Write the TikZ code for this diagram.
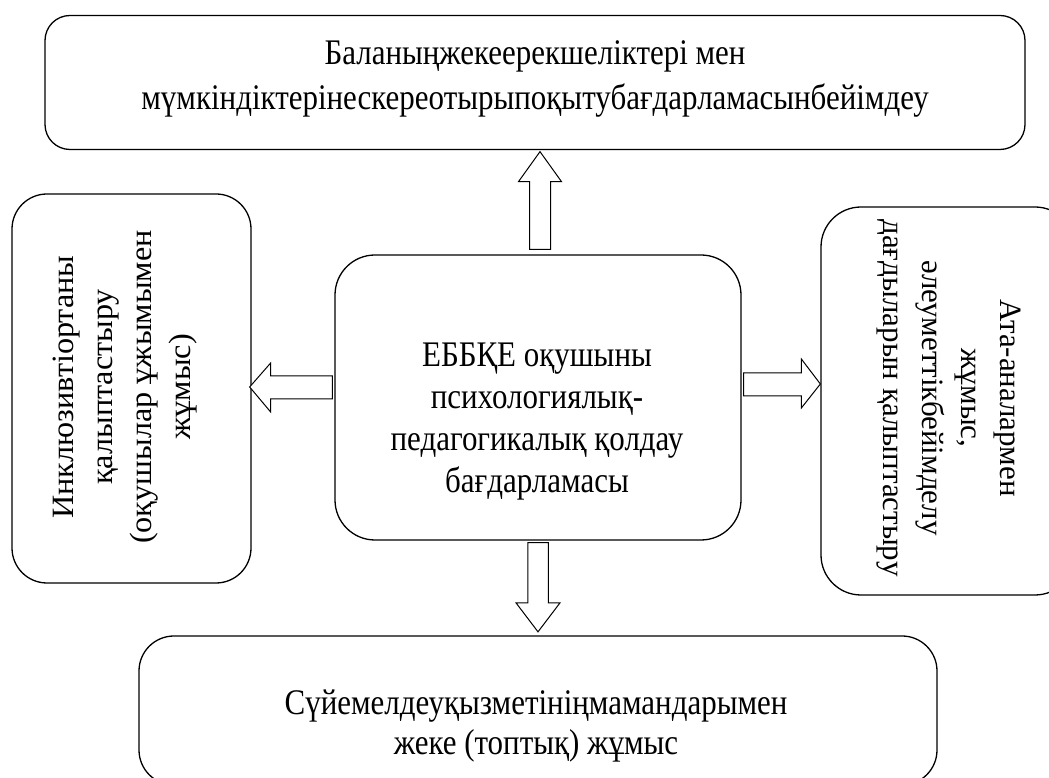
\documentclass[tikz,border=0pt]{standalone}
\usepackage{fontspec}
\setmainfont{Liberation Serif}
\newfontfamily\hfont[FakeStretch=0.86]{Liberation Serif}
\newfontfamily\vfont[FakeStretch=1.04]{Liberation Serif}
\usetikzlibrary{calc}
\begin{document}
\begin{tikzpicture}[x=1pt,y=1pt,
  box/.style={draw, line width=1.3pt},
  lbl/.style={align=center, inner sep=0pt},
  barrow/.style={draw, line width=1pt, fill=white, line join=miter}]
\clip (0,0) rectangle (1049,778);
\fill[white] (0,0) rectangle (1049,778);
% boxes
\node[box, minimum width=980pt, minimum height=134pt, rounded corners=25pt] (t) at (535,695.5) {};
\node[box, minimum width=406pt, minimum height=285pt, rounded corners=40pt] (c) at (538,380.5) {};
\node[box, rotate=90, minimum width=389pt, minimum height=239pt, rounded corners=35pt] (l) at (131.5,389.5) {};
\node[box, rotate=-90, minimum width=388pt, minimum height=254pt, rounded corners=40pt] (r) at (948,377) {};
\node[box, minimum width=798pt, minimum height=149pt, rounded corners=35pt] (b) at (538,67.5) {};
% texts
\node[lbl, font=\hfont\fontsize{36}{45}\selectfont] (tt) at (535,699)
  {Баланыңжекеерекшеліктері мен\\мүмкіндіктерінескереотырыпоқытубағдарламасынбейімдеу};
\node[lbl, font=\hfont\fontsize{36}{42}\selectfont] (ct) at (537,356.5)
  {ЕББҚЕ оқушыны\\психологиялық-\\педагогикалық қолдау\\бағдарламасы};
\node[lbl, font=\hfont\fontsize{36}{40}\selectfont] (bt) at (536,52)
  {Сүйемелдеуқызметініңмамандарымен\\жеке (топтық) жұмыс};
\node[lbl, rotate=90, font=\vfont\fontsize{31}{39}\selectfont] (lt) at (125,391)
  {Инклюзивтіортаны\\қалыптастыру\\(оқушылар ұжымымен\\жұмыс)};
\node[lbl, rotate=-90, font=\fontsize{31}{39}\selectfont] (rt) at (949,380)
  {Ата-аналармен\\жұмыс,\\әлеуметтікбейімделу\\дағдыларын қалыптастыру};
% block arrows
\draw[barrow] let \p1=(c.north), \p2=(t.south) in
  (\x1+2pt-10.5pt,\y1+5pt) -- (\x1+2pt-10.5pt,\y2-31.5pt) -- (\x1+2pt-21.5pt,\y2-31.5pt)
  -- (\x1+2pt,\y2-1.5pt) -- (\x1+2pt+21.5pt,\y2-31.5pt) -- (\x1+2pt+10.5pt,\y2-31.5pt)
  -- (\x1+2pt+10.5pt,\y1+5pt) -- cycle;
\draw[barrow] let \p1=(c.south), \p2=(b.north) in
  (\x1-10.25pt,\y1-2pt) -- (\x1-10.25pt,\y2+32.5pt) -- (\x1-22pt,\y2+32.5pt)
  -- (\x1,\y2+3.5pt) -- (\x1+22pt,\y2+32.5pt) -- (\x1+10.25pt,\y2+32.5pt)
  -- (\x1+10.25pt,\y1-2pt) -- cycle;
\draw[barrow] let \p1=(c.west), \p2=(l.south) in
  (\x1-2pt,\y2-10.5pt) -- (\x2+19pt,\y2-10.5pt) -- (\x2+19pt,\y2-23.5pt)
  -- (\x2-2pt,\y2+1.5pt) -- (\x2+19pt,\y2+25.5pt) -- (\x2+19pt,\y2+12.5pt)
  -- (\x1-2pt,\y2+12.5pt) -- cycle;
\draw[barrow] let \p1=(c.east), \p2=(r.south) in
  (\x1+2pt,\y2+5pt) -- (\x2-19pt,\y2+5pt) -- (\x2-19pt,\y2-7pt)
  -- (\x2,\y2+17pt) -- (\x2-19pt,\y2+42pt) -- (\x2-19pt,\y2+28pt)
  -- (\x1+2pt,\y2+28pt) -- cycle;
\end{tikzpicture}
\end{document}
